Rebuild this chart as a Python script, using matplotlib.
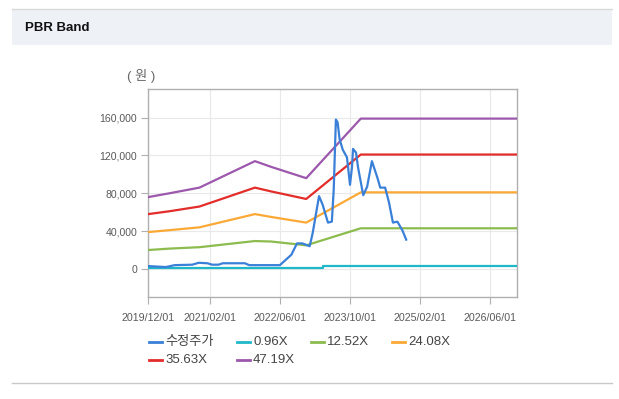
import matplotlib
matplotlib.use("Agg")
import matplotlib.pyplot as plt
import pandas as pd
from matplotlib.lines import Line2D
from matplotlib.patches import Rectangle

# data
band_dates = ["2019-12-01", "2020-04-25", "2020-11-20", "2021-12-10", "2022-04-01",
              "2022-12-01", "2023-12-15", "2026-12-01"]
band_0_96 = [1500, 1500, 1500, 1500, 1500, 1500, 3000, 3000]
band_12_52 = [20000, 21500, 23000, 29500, 29000, 25000, 43000, 43000]
band_24_08 = [39000, 41000, 44000, 58000, 55000, 49000, 81000, 81000]
band_35_63 = [58000, 61000, 66000, 86000, 82000, 74000, 121000, 121000]
band_47_19 = [76000, 80000, 86000, 114000, 108000, 96000, 159000, 159000]
cyan_step_date = "2023-03-25"

price_dates = [
    "2019-12-01", "2020-02-01", "2020-04-01", "2020-06-01", "2020-10-01", "2020-11-15",
    "2021-01-15", "2021-02-15", "2021-04-01", "2021-05-01", "2021-10-01", "2021-11-01",
    "2022-06-01", "2022-08-20", "2022-09-28", "2022-11-05", "2022-12-25", "2023-01-15",
    "2023-02-28", "2023-03-25", "2023-05-01", "2023-05-28", "2023-06-10", "2023-06-25",
    "2023-07-07", "2023-07-21", "2023-08-12", "2023-09-10", "2023-10-01", "2023-10-15",
    "2023-10-22", "2023-11-12", "2023-11-25", "2024-01-01", "2024-01-28", "2024-03-01",
    "2024-04-07", "2024-04-28", "2024-06-01", "2024-06-28", "2024-07-25", "2024-08-25",
    "2024-09-28", "2024-10-25",
]
price = [
    3000, 2500, 2000, 4000, 4500, 6500,
    6000, 4500, 4500, 6000, 6000, 4000,
    4000, 15000, 27000, 27000, 24000, 38000,
    77000, 68000, 49000, 50000, 84000, 158000,
    155000, 137000, 126000, 118000, 89000, 108000,
    127000, 123000, 108000, 78000, 87000, 114000,
    97000, 86000, 86000, 70000, 49000, 50000,
    41000, 31000,
]

tick_dates = ["2019-12-01", "2021-02-01", "2022-06-01", "2023-10-01", "2025-02-01", "2026-06-01"]
tick_labels = ["2019/12/01", "2021/02/01", "2022/06/01", "2023/10/01", "2025/02/01", "2026/06/01"]
y_ticks = [0, 40000, 80000, 120000, 160000]

series_names = ["수정주가", "0.96X", "12.52X", "24.08X", "35.63X", "47.19X"]
colors = ["#3a80d8", "#1fb8c8", "#8cbb4e", "#fba936", "#e22d2a", "#9c58ac"]

fonts = ["Liberation Sans", "Noto Sans CJK KR", "DejaVu Sans"]
plt.rcParams["font.family"] = fonts

W, H = 619, 399
fig = plt.figure(figsize=(W / 100, H / 100), dpi=100)


def px(x, y):
    return x / W, 1 - y / H


# panel header
fig.add_artist(Rectangle(px(12, 45), 600 / W, 36 / H, transform=fig.transFigure,
                         facecolor="#eef2f7", edgecolor="none"))
fig.add_artist(Line2D([12 / W, 612 / W], [1 - 9 / H] * 2, transform=fig.transFigure,
                      color="#d8d8d8", lw=1))
fig.add_artist(Line2D([12 / W, 612 / W], [1 - 383 / H] * 2, transform=fig.transFigure,
                      color="#c8c8c8", lw=1))
fig.text(*px(25, 28), "PBR Band", fontsize=9.5, fontweight="bold", color="#111111",
         va="center", ha="left")

ax = fig.add_axes([148.3 / W, 1 - 297.3 / H, 368.4 / W, 208 / H])

bd = pd.to_datetime(band_dates)
cyan_x = pd.to_datetime(band_dates[:6] + [cyan_step_date, cyan_step_date] + band_dates[6:])
cyan_y = band_0_96[:6] + [band_0_96[5], band_0_96[6]] + band_0_96[6:]

lw = 1.6
ax.plot(pd.to_datetime(price_dates), price, color=colors[0], lw=lw, zorder=6)
ax.plot(cyan_x, cyan_y, color=colors[1], lw=lw, zorder=5)
ax.plot(bd, band_12_52, color=colors[2], lw=lw, zorder=4)
ax.plot(bd, band_24_08, color=colors[3], lw=lw, zorder=4)
ax.plot(bd, band_35_63, color=colors[4], lw=lw, zorder=4)
ax.plot(bd, band_47_19, color=colors[5], lw=lw, zorder=4)

ax.set_xlim(pd.Timestamp("2019-12-01"), pd.Timestamp("2026-12-01"))
ax.set_ylim(-30000, 190000)
ax.set_xticks(pd.to_datetime(tick_dates))
ax.set_xticklabels(tick_labels)
ax.set_yticks(y_ticks)
ax.set_yticklabels([f"{v:,}" for v in y_ticks])
ax.grid(True, color="#e9e9e9", lw=0.8)
ax.set_axisbelow(True)
for s in ax.spines.values():
    s.set_color("#b0b0b0")
    s.set_linewidth(1)
ax.tick_params(axis="both", colors="#b0b0b0", labelcolor="#5a5a5a", length=5, width=0.8)
ax.tick_params(axis="x", labelsize=7.7, pad=6)
ax.tick_params(axis="y", labelsize=7.6, pad=3)

fig.text(*px(141, 76), "( 원 )", fontsize=9.5, color="#666666", ha="center", va="center")

# legend drawn by hand to match column placement
legend_pos = [(149, 342), (237, 342), (311, 342), (392, 342), (149, 360), (237, 360)]
for (lx, ly), name, c in zip(legend_pos, series_names, colors):
    fig.add_artist(Line2D([lx / W, (lx + 13) / W], [1 - ly / H] * 2,
                          transform=fig.transFigure, color=c, lw=2))
    fig.text((lx + 16) / W, 1 - ly / H, name, fontsize=9.5, color="#444444",
             ha="left", va="center")

fig.savefig("out.png", dpi=100)
